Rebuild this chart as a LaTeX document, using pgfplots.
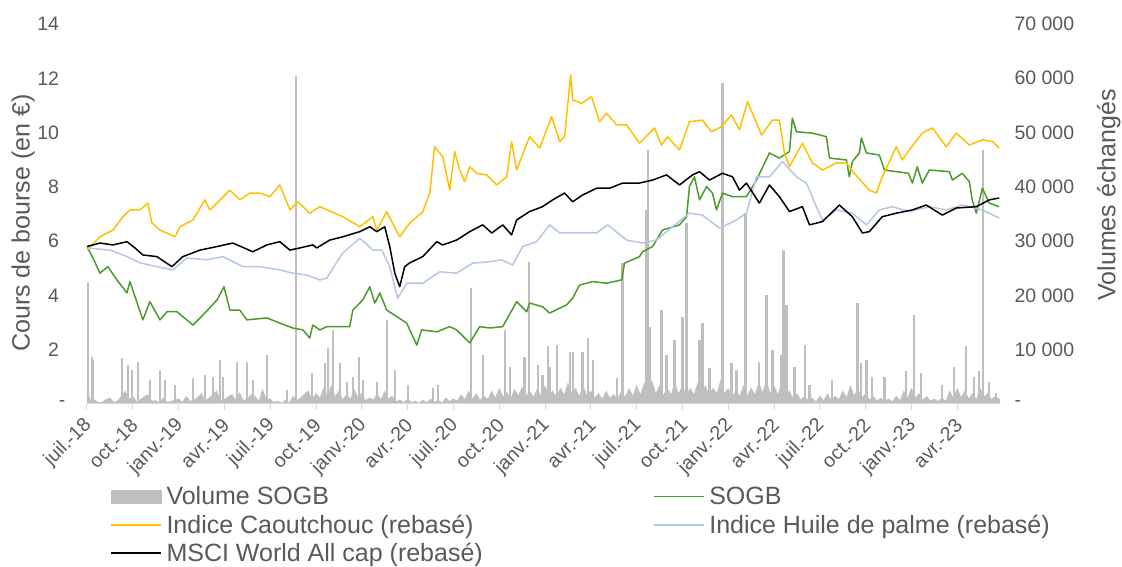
\documentclass[border=0pt]{standalone}
\usepackage{fontspec}
\setmainfont{Liberation Sans}
\usepackage{pgfplots}
\pgfplotsset{compat=1.18}
\definecolor{cgold}{HTML}{FFC000}
\definecolor{cgreen}{HTML}{4C9A2A}
\definecolor{cblue}{HTML}{B4C7E7}
\definecolor{cbar}{HTML}{BFBFBF}
\definecolor{ctext}{HTML}{595959}
\definecolor{caxis}{HTML}{D9D9D9}
\begin{document}
\begin{tikzpicture}
\useasboundingbox (-87pt,-163pt) rectangle (1035pt,404pt);
% ---------------- volume axis (right) ----------------
\begin{axis}[
  width=913pt, height=380pt, scale only axis,
  xmin=0, xmax=59.8, ymin=0, ymax=70000,
  axis y line*=right, axis x line=none,
  y axis line style={draw=none}, ytick style={draw=none},
  scaled y ticks=false,
  ytick={0,10000,20000,30000,40000,50000,60000,70000},
  yticklabels={-,10 000,20 000,30 000,40 000,50 000,60 000,70 000},
  yticklabel style={font=\fontsize{19.5}{23}\selectfont, text=ctext, anchor=west, xshift=11pt},
  ylabel={Volumes échangés},
  ylabel style={font=\fontsize{25}{29}\selectfont, text=ctext, at={(axis description cs:1.119,0.55)}, anchor=center, rotate=0},
  clip=false,
]
\addplot[fill=cbar, draw=none, forget plot] coordinates {
(0,3000)(0.25,600)(0.5,800)(0.75,300)(1,400)(1.25,900)(1.5,1200)(1.75,400)(2,600)(2.25,1500)(2.5,2500)(2.75,900)(3,1500)(3.25,500)(3.5,900)(3.75,1400)(4,1800)(4.25,600)(4.5,700)(4.75,300)
(5,1200)(5.25,400)(5.5,500)(5.75,900)(6,1000)(6.25,400)(6.5,1500)(6.75,600)(7,800)(7.25,1300)(7.5,2000)(7.75,700)(8,1200)(8.25,1800)(8.5,2500)(8.75,600)(9,900)(9.25,1400)(9.5,1800)(9.75,800)
(10,2200)(10.25,700)(10.5,1000)(10.75,1800)(11,1500)(11.25,600)(11.5,2800)(11.75,900)(12,1000)(12.25,300)(12.5,600)(12.75,200)(13,800)(13.25,300)(13.5,1500)(13.75,700)(14,1200)(14.25,1900)(14.5,2500)(14.75,900)
(15,2000)(15.25,1200)(15.5,3000)(15.75,1500)(16,3500)(16.25,1400)(16.5,2500)(16.75,900)(17,1800)(17.25,1000)(17.5,2800)(17.75,1300)(18,2000)(18.25,700)(18.5,1200)(18.75,800)(19,2000)(19.25,900)(19.5,2500)(19.75,1000)
(20,1500)(20.25,500)(20.5,800)(20.75,300)(21,1000)(21.25,300)(21.5,600)(21.75,200)(22,800)(22.25,300)(22.5,1000)(22.75,400)(23,700)(23.25,300)(23.5,1200)(23.75,500)(24,1000)(24.25,600)(24.5,1800)(24.75,900)
(25,2500)(25.25,1000)(25.5,2000)(25.75,800)(26,1500)(26.25,900)(26.5,2500)(26.75,1200)(27,3000)(27.25,1400)(27.5,2200)(27.75,1000)(28,2800)(28.25,1600)(28.5,3200)(28.75,1500)(29,2500)(29.25,1300)(29.5,3000)(29.75,1500)
(30,3500)(30.25,1500)(30.5,2500)(30.75,1400)(31,3000)(31.25,1800)(31.5,4000)(31.75,2000)(32,3000)(32.25,1500)(32.5,3500)(32.75,1600)(33,2500)(33.25,1200)(33.5,2000)(33.75,1000)(34,2500)(34.25,1100)(34.5,1800)(34.75,900)
(35,2500)(35.25,1300)(35.5,3000)(35.75,1600)(36,3500)(36.25,1800)(36.5,4000)(36.75,2200)(37,4500)(37.25,2000)(37.5,3500)(37.75,1700)(38,3000)(38.25,1800)(38.5,4000)(38.75,2000)(39,3500)(39.25,1600)(39.5,3000)(39.75,1800)
(40,4000)(40.25,2000)(40.5,3500)(40.75,1700)(41,3000)(41.25,2000)(41.5,4500)(41.75,2000)(42,3000)(42.25,1400)(42.5,2500)(42.75,1500)(43,3500)(43.25,1600)(43.5,3000)(43.75,1800)(44,4000)(44.25,2200)(44.5,4500)(44.75,2000)
(45,3500)(45.25,1800)(45.5,4000)(45.75,1600)(46,2500)(46.25,1100)(46.5,2000)(46.75,800)(47,1500)(47.25,600)(47.5,1200)(47.75,500)(48,1500)(48.25,700)(48.5,2000)(48.75,800)(49,1500)(49.25,900)(49.5,2500)(49.75,1300)
(50,3500)(50.25,1600)(50.5,3000)(50.75,1200)(51,2000)(51.25,800)(51.5,1500)(51.75,600)(52,1200)(52.25,500)(52.5,1000)(52.75,500)(53,1500)(53.25,700)(53.5,2500)(53.75,1200)(54,3000)(54.25,1200)(54.5,2000)(54.75,800)
(55,1500)(55.25,600)(55.5,1000)(55.75,500)(56,1200)(56.25,600)(56.5,2500)(56.75,1100)(57,3000)(57.25,1300)(57.5,2500)(57.75,1000)(58,2000)(58.25,900)(58.5,3000)(58.75,1400)(59,2000)(59.25,900)(59.5,1500)(59.8,800)
} \closedcycle;
\addplot[ycomb, draw=cbar, line width=2.2pt, forget plot] coordinates {
(0.05,22500)(0.33,8700)(0.39,8100)(2.29,8500)(2.68,7200)(2.95,6300)(3.34,7800)(4.12,4400)
(4.78,6300)(5.10,4400)(5.76,3500)(6.94,4800)(7.72,5300)(8.25,5000)(8.70,8100)(8.90,5000)
(9.82,7800)(10.47,7800)(10.86,4400)(11.78,9000)(13.09,2600)(13.71,60400)(14.73,5700)
(15.58,7500)(15.77,10300)(16.10,13600)(16.56,7500)(17.02,4100)(17.41,5000)(17.80,8700)
(18.06,4400)(18.98,4100)(19.63,15500)(20.16,6300)(21.01,3500)(22.64,2900)(22.97,3500)
(25.13,21400)(25.92,9000)(27.36,13600)(27.68,6900)(28.66,8700)(28.93,26200)(29.52,7200)
(29.84,5300)(30.17,10600)(30.30,6900)(30.76,10900)(31.61,9600)(31.81,9600)(32.46,9600)
(32.79,12200)(33.12,8100)(34.69,4800)(35.08,26000)(36.65,35700)(36.75,46800)(36.85,14200)
(37.63,17300)(37.96,9000)(38.48,11800)(39.01,16100)(39.27,33300)(40.12,11800)(40.31,14900)
(40.77,6600)(41.62,59100)(42.21,7500)(42.54,6300)(43.13,35200)(44.04,7800)(44.50,20100)
(44.90,10000)(45.48,9000)(45.62,28400)(45.81,18200)(46.34,6900)(47.05,10900)(47.32,3500)
(48.82,4400)(50.46,18600)(50.72,7500)(51.05,8100)(51.44,5000)(52.23,5000)(53.66,6000)
(54.19,16400)(54.65,5700)(56.02,3500)(56.81,6900)(57.59,10600)(58.12,5000)(58.44,6000)
(58.70,46800)(59.10,4100)(59.55,2000)
};
\end{axis}
% ---------------- price axis (left) ----------------
\begin{axis}[
  width=913pt, height=380pt, scale only axis,
  xmin=0, xmax=59.8, ymin=0, ymax=14,
  axis y line*=left, axis x line*=bottom,
  x axis line style={draw=caxis, line width=1pt},
  y axis line style={draw=none}, ytick style={draw=none},
  ytick={0,2,4,6,8,10,12,14},
  yticklabels={-,2\phantom{-},4\phantom{-},6\phantom{-},8\phantom{-},10\phantom{-},12\phantom{-},14\phantom{-}},
  yticklabel style={font=\fontsize{19.5}{23}\selectfont, text=ctext, anchor=east, xshift=-12pt},
  ylabel={Cours de bourse (en €)},
  ylabel style={font=\fontsize{25}{29}\selectfont, text=ctext, at={(axis description cs:-0.07,0.476)}, anchor=center, rotate=0},
  xtick={0,3,6,9,12,15,18,21,24,27,30,33,36,39,42,45,48,51,54,57},
  xticklabels={juil.-18,oct.-18,janv.-19,avr.-19,juil.-19,oct.-19,janv.-20,avr.-20,juil.-20,oct.-20,janv.-21,avr.-21,juil.-21,oct.-21,janv.-22,avr.-22,juil.-22,oct.-22,janv.-23,avr.-23},
  tick align=outside, major tick length=6pt,
  xtick style={draw=caxis, line width=1pt},
  xticklabel style={font=\fontsize{19.5}{23}\selectfont, text=ctext, xshift=4pt, yshift=-10pt, rotate=45, anchor=east},
  legend columns=2,
  legend cell align=left,
  legend style={at={(axis description cs:0.025,-0.212)}, anchor=north west, draw=none, fill=none,
    font=\fontsize{25}{29}\selectfont, text=ctext, inner sep=0pt, row sep=4.5pt,
    /tikz/every odd column/.append style={column sep=3pt},
    /tikz/column 2/.style={column sep=168pt}},
  legend image code/.code={\draw[#1] (0pt,0pt) -- (50pt,0pt);},
  line join=round,
]
\addlegendimage{legend image code/.code={\fill[cbar] (0pt,-6.5pt) rectangle (50pt,6.5pt);}}
\addlegendentry{Volume SOGB}
% SOGB
\addplot[cgreen, line width=1.5pt] coordinates {
(0,5.80)(0.39,5.38)(0.85,4.82)(1.37,5.06)(1.96,4.57)(2.62,4.09)(2.81,4.51)(3.66,3.10)(4.12,3.77)
(4.78,3.10)(5.24,3.40)(5.89,3.40)(6.94,2.91)(7.72,3.35)(8.51,3.83)(8.97,4.32)(9.36,3.46)(10.01,3.46)
(10.47,3.10)(11.78,3.17)(12.63,2.98)(13.48,2.80)(14.14,2.73)(14.59,2.43)(14.79,2.91)(15.25,2.73)
(15.71,2.85)(17.21,2.85)(17.41,3.46)(18.06,3.83)(18.52,4.32)(18.85,3.72)(19.18,4.09)(19.63,3.46)
(20.29,3.22)(20.94,2.98)(21.60,2.17)(21.92,2.73)(22.91,2.66)(23.76,2.85)(24.21,2.73)(25.07,2.25)
(25.72,2.85)(26.37,2.80)(27.23,2.85)(28.14,3.77)(28.80,3.40)(28.99,3.72)(29.84,3.58)(30.30,3.35)
(31.41,3.65)(31.81,3.90)(32.26,4.38)(33.12,4.51)(34.03,4.45)(35.01,4.57)(35.21,5.19)(36.19,5.43)
(36.39,5.61)(37.04,5.80)(37.70,6.41)(38.81,6.60)(39.27,6.90)(39.46,8.01)(39.79,8.37)(40.12,7.52)
(40.58,8.01)(40.97,7.77)(41.23,7.15)(41.62,7.77)(42.28,7.64)(43.19,7.64)(43.85,8.25)(44.70,9.25)
(45.35,9.06)(46.01,9.30)(46.20,10.53)(46.47,10.03)(47.51,9.98)(48.43,9.85)(48.63,9.06)(49.74,8.99)
(49.93,8.37)(50.13,8.93)(50.59,9.25)(50.72,9.80)(51.05,9.25)(51.90,9.17)(52.23,8.62)(53.80,8.50)
(54.06,8.14)(54.38,8.74)(54.71,8.14)(55.17,8.62)(56.48,8.56)(56.68,8.25)(57.33,8.50)(57.79,8.19)
(57.98,7.52)(58.25,7.03)(58.64,7.95)(59.10,7.40)(59.75,7.27)
};
\addlegendentry{SOGB}
% Caoutchouc
\addplot[cgold, line width=1.5pt] coordinates {
(0.00,5.67)(0.85,6.16)(1.70,6.41)(2.36,6.90)(2.81,7.15)(3.47,7.15)(3.99,7.40)(4.25,6.67)(4.78,6.41)
(5.76,6.16)(6.09,6.53)(6.94,6.78)(7.72,7.52)(8.05,7.15)(8.51,7.40)(9.36,7.88)(10.01,7.52)(10.67,7.77)
(11.32,7.77)(11.98,7.64)(12.63,8.07)(13.29,7.15)(13.81,7.45)(14.59,7.03)(15.25,7.27)(16.75,6.90)
(17.87,6.53)(18.72,6.90)(18.98,6.41)(19.63,7.08)(20.48,6.16)(21.14,6.67)(21.99,7.08)(22.45,7.77)
(22.77,9.48)(23.30,9.11)(23.76,7.88)(24.08,9.30)(24.41,8.62)(24.74,8.19)(25.07,8.74)(25.52,8.50)
(26.18,8.44)(26.83,8.07)(27.49,8.37)(27.81,9.67)(28.14,8.62)(28.99,9.85)(29.65,9.43)(30.43,10.59)
(30.96,9.67)(31.28,9.85)(31.68,12.12)(31.81,11.20)(32.40,11.08)(33.05,11.32)(33.57,10.40)(34.03,10.71)
(34.69,10.28)(35.34,10.28)(36.19,9.61)(37.17,10.17)(37.63,9.54)(38.02,9.84)(38.81,9.36)(39.46,10.40)
(40.31,10.46)(40.90,10.03)(41.56,10.22)(42.21,10.65)(42.74,10.10)(43.26,11.14)(44.18,9.91)(44.90,10.46)
(45.35,10.46)(45.68,9.25)(46.01,8.74)(46.86,9.61)(47.51,8.88)(48.17,8.62)(49.08,8.88)(49.74,8.88)
(50.26,8.50)(51.24,7.88)(51.70,7.77)(52.09,8.37)(53.01,9.48)(53.40,8.99)(53.86,9.36)(54.71,9.98)
(55.37,10.17)(56.28,9.48)(56.94,9.98)(57.79,9.54)(58.64,9.73)(59.29,9.67)(59.75,9.43)
};
\addlegendentry{Indice Caoutchouc (rebasé)}
% Huile de palme
\addplot[cblue, line width=1.5pt] coordinates {
(0,5.75)(1.51,5.67)(2.62,5.43)(3.47,5.20)(4.58,5.06)(5.63,4.94)(6.54,5.38)(7.85,5.31)(8.90,5.43)
(10.21,5.06)(11.32,5.06)(12.63,4.94)(13.48,4.82)(14.40,4.75)(15.25,4.57)(15.71,4.64)(16.75,5.56)
(17.87,6.11)(18.72,5.67)(19.31,5.67)(19.83,5.06)(20.35,3.90)(20.94,4.45)(21.99,4.45)(23.10,4.87)
(24.21,4.82)(25.26,5.19)(26.37,5.24)(27.16,5.31)(27.88,5.12)(28.53,5.80)(29.45,5.98)(30.30,6.60)
(30.96,6.30)(32.26,6.30)(33.38,6.30)(34.10,6.60)(35.34,6.04)(36.39,5.93)(37.30,6.04)(38.35,6.53)
(39.46,7.03)(40.31,6.96)(41.43,6.48)(42.54,6.78)(43.19,7.03)(43.85,8.37)(44.70,8.37)(45.55,8.93)
(46.47,8.37)(47.12,8.14)(47.77,7.27)(48.17,6.78)(49.08,7.15)(50.13,7.03)(51.05,6.60)(51.90,7.15)
(52.75,7.27)(53.86,7.09)(55.17,7.27)(56.28,7.15)(57.33,7.33)(58.64,7.15)(59.75,6.85)
};
\addlegendentry{Indice Huile de palme (rebasé)}
% MSCI
\addplot[black, line width=1.5pt] coordinates {
(0,5.80)(0.85,5.93)(1.70,5.86)(2.62,5.98)(3.14,5.75)(3.66,5.49)(4.58,5.43)(5.56,5.06)(6.28,5.43)
(7.40,5.67)(8.51,5.80)(9.55,5.93)(10.86,5.61)(11.78,5.86)(12.63,5.98)(13.29,5.67)(13.94,5.75)
(14.79,5.86)(15.05,5.75)(15.90,6.04)(16.75,6.16)(17.87,6.35)(18.52,6.53)(18.98,6.35)(19.50,6.53)
(19.83,5.80)(20.16,4.82)(20.48,4.32)(20.81,5.06)(21.14,5.20)(21.99,5.43)(22.91,5.98)(23.30,5.86)
(24.21,6.04)(25.07,6.35)(25.92,6.60)(26.51,6.30)(27.23,6.60)(27.81,6.23)(28.14,6.78)(28.99,7.09)
(29.84,7.27)(30.50,7.52)(31.28,7.77)(31.81,7.45)(32.46,7.70)(33.38,7.95)(34.23,7.95)(35.08,8.14)
(36.19,8.14)(37.04,8.25)(37.96,8.44)(38.81,8.07)(39.66,8.44)(40.12,8.56)(40.77,8.25)(41.62,8.50)
(42.28,8.37)(42.74,7.88)(43.19,8.14)(44.04,7.40)(44.70,8.07)(45.35,7.64)(46.01,7.09)(46.86,7.27)
(47.32,6.60)(48.17,6.72)(49.28,7.33)(50.13,6.90)(50.79,6.30)(51.24,6.35)(52.09,6.90)(53.01,7.03)
(54.06,7.15)(54.97,7.33)(56.02,6.96)(56.94,7.22)(58.25,7.27)(59.10,7.52)(59.75,7.59)
};
\addlegendentry{MSCI World All cap (rebasé)}
\end{axis}
\end{tikzpicture}
\end{document}
